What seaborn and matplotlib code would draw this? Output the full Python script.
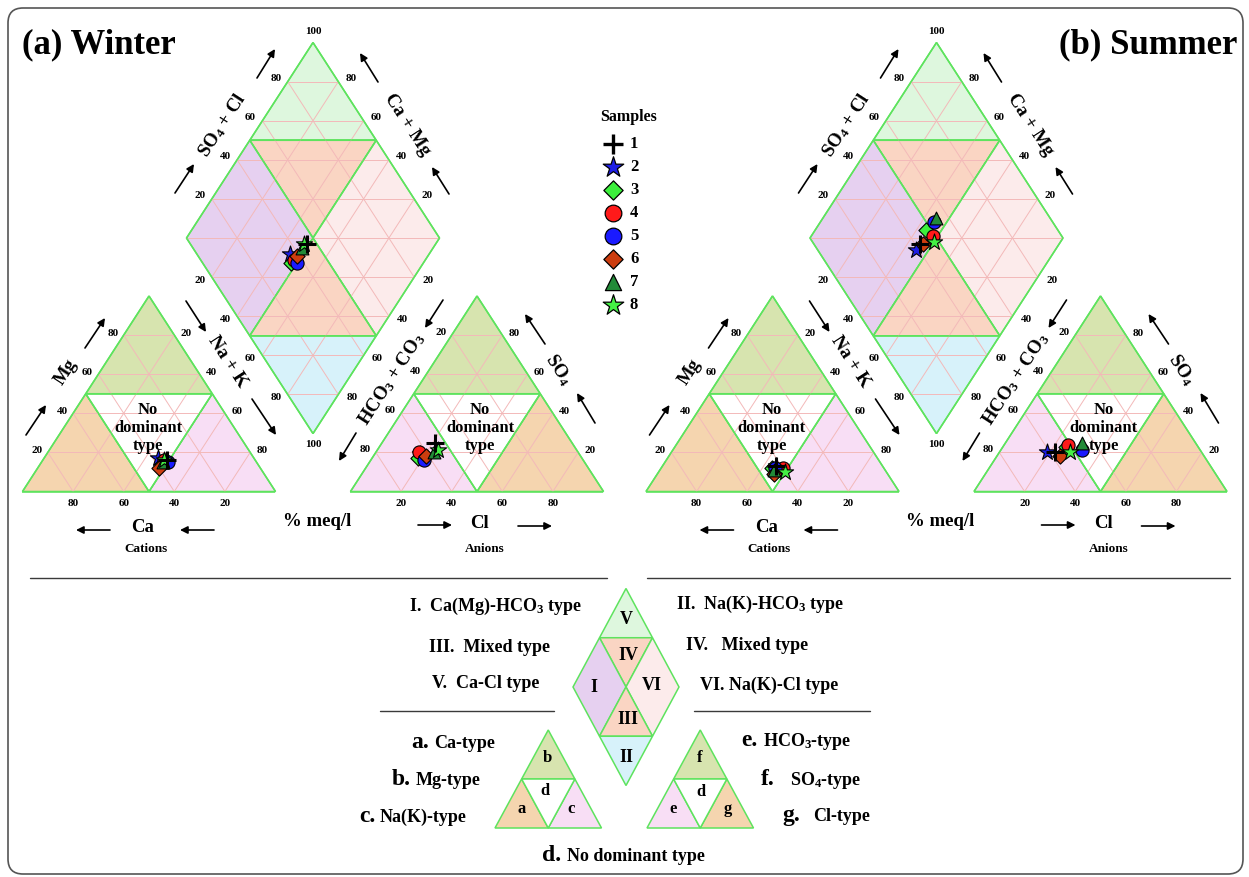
import numpy as np
import pandas as pd
import matplotlib
matplotlib.use("Agg")
import matplotlib.pyplot as plt
import seaborn as sns
from matplotlib.patches import Polygon, FancyBboxPatch

# ---------------- data (% meq/l) ----------------
samples = ["1", "2", "3", "4", "5", "6", "7", "8"]
# Winter
ca_w   = [35, 38, 38, 36, 35, 40, 37, 36]
mg_w   = [16, 17, 14, 16, 15, 12, 15, 16]
na_w   = [49, 45, 48, 48, 50, 48, 48, 48]
hco3_w = [54, 63, 65, 63, 63, 61, 57, 55]
so4_w  = [25, 19, 17, 20, 16, 18, 20, 21]
cl_w   = [21, 18, 18, 17, 21, 21, 23, 24]
# Summer
ca_s   = [42, 42, 44, 40, 43, 45, 44, 40]
mg_s   = [13, 13, 12, 12, 12, 9, 11, 10]
na_s   = [45, 45, 44, 48, 45, 46, 45, 50]
hco3_s = [58, 61, 52, 51, 47, 57, 45, 52]
so4_s  = [20, 20, 23, 24, 21, 18, 25, 20]
cl_s   = [22, 19, 25, 25, 32, 25, 30, 28]

tick_vals = [20, 40, 60, 80]
marker_styles = {"1": "+", "2": "*", "3": "D", "4": "o", "5": "o", "6": "D", "7": "^", "8": "*"}
marker_colors = {"1": "#000000", "2": "#1e1ee6", "3": "#3cf03c", "4": "#ff1a1a",
                 "5": "#1a1aff", "6": "#cc3d0f", "7": "#228b38", "8": "#44f044"}
marker_sizes = {"+": 150, "*": 150, "D": 60, "o": 90, "^": 85}

# ---------------- geometry ----------------
W, H = 253.0, 195.5
BASE = 491.5
GAP = 75.0
PANEL_X0 = {"Winter": 22.5, "Summer": 646.0}

C_GREEN_LINE = "#5ee35e"
C_GRID = "#f3b9b9"
C_V = "#def7de"
C_ORANGE_D = "#fad5c3"
C_I = "#e6d0f0"
C_VI = "#fcebeb"
C_II = "#d7f2fa"
C_OLIVE = "#d7e4af"
C_ORANGE_T = "#f5d5af"
C_PINK = "#f8def5"

sns.set_theme(style="white")
plt.rcParams["font.family"] = ["Liberation Serif", "DejaVu Serif"]
plt.rcParams["font.weight"] = "bold"
plt.rcParams["mathtext.fontset"] = "custom"
plt.rcParams["mathtext.rm"] = "Liberation Serif:bold"
plt.rcParams["mathtext.it"] = "Liberation Serif:bold"
plt.rcParams["mathtext.bf"] = "Liberation Serif:bold"
plt.rcParams["mathtext.default"] = "rm"


def cat_xy(x0, c, m, n):
    return x0 + W * (n + m / 2.0), BASE - H * m


def an_xy(x0, h, s, cl):
    xa = x0 + W + GAP
    return xa + W * (cl + s / 2.0), BASE - H * s


def dia_xy(x0, u, v):
    cx = x0 + W + GAP / 2.0
    by = BASE - GAP * H / W
    return cx + (W / 2.0) * (u - v), by - H * (u + v)


fig = plt.figure(figsize=(12.49, 8.77), dpi=100)
ax = fig.add_axes([0, 0, 1, 1])


def poly(pts, fc, z=1, ec=C_GREEN_LINE, lw=1.1, a=ax):
    a.add_patch(Polygon(pts, closed=True, facecolor=fc, edgecolor=ec, lw=lw, zorder=z))


def line(p, q, color, lw, z):
    ax.plot([p[0], q[0]], [p[1], q[1]], color=color, lw=lw, zorder=z, solid_capstyle="butt")


def txt(x, y, s, size, rot=0, ha="center", va="center", **kw):
    ax.text(x, y, s, fontsize=size, fontweight="bold", rotation=rot, ha=ha, va=va,
            rotation_mode="anchor", color="black", zorder=20, **kw)


def arrow(tail, head):
    ax.annotate("", xy=head, xytext=tail,
                arrowprops=dict(arrowstyle="-|>", color="black", lw=1.2,
                                mutation_scale=11, shrinkA=0, shrinkB=0), zorder=20)


def draw_piper(x0):
    ct = lambda c, m, n: cat_xy(x0, c, m, n)
    at = lambda h, s, cl: an_xy(x0, h, s, cl)
    dt = lambda u, v: dia_xy(x0, u, v)
    # --- fills ---
    poly([ct(.5, .5, 0), ct(0, 1, 0), ct(0, .5, .5)], C_OLIVE)
    poly([ct(1, 0, 0), ct(.5, .5, 0), ct(.5, 0, .5)], C_ORANGE_T)
    poly([ct(0, 0, 1), ct(.5, 0, .5), ct(0, .5, .5)], C_PINK)
    poly([ct(.5, .5, 0), ct(0, .5, .5), ct(.5, 0, .5)], "white")
    poly([at(.5, .5, 0), at(0, 1, 0), at(0, .5, .5)], C_OLIVE)
    poly([at(1, 0, 0), at(.5, .5, 0), at(.5, 0, .5)], C_PINK)
    poly([at(0, 0, 1), at(.5, 0, .5), at(0, .5, .5)], C_ORANGE_T)
    poly([at(.5, .5, 0), at(0, .5, .5), at(.5, 0, .5)], "white")
    poly([dt(1, 1), dt(.5, 1), dt(1, .5)], C_V)
    poly([dt(.5, 1), dt(1, .5), dt(.5, .5)], C_ORANGE_D)
    poly([dt(0, 1), dt(.5, 1), dt(.5, .5), dt(0, .5)], C_I)
    poly([dt(1, 0), dt(1, .5), dt(.5, .5), dt(.5, 0)], C_VI)
    poly([dt(.5, .5), dt(0, .5), dt(.5, 0)], C_ORANGE_D)
    poly([dt(0, .5), dt(.5, 0), dt(0, 0)], C_II)
    # --- grid ---
    for k in [.2, .4, .6, .8]:
        for f in (ct, at):
            line(f(1 - k, k, 0), f(0, k, 1 - k), C_GRID, 0.7, 2)
            line(f(k, 1 - k, 0), f(k, 0, 1 - k), C_GRID, 0.7, 2)
            line(f(1 - k, 0, k), f(0, 1 - k, k), C_GRID, 0.7, 2)
        line(dt(k, 0), dt(k, 1), C_GRID, 0.7, 2)
        line(dt(0, k), dt(1, k), C_GRID, 0.7, 2)
    for sv in np.arange(1, 10) * 0.2:
        if sv <= 1:
            line(dt(0, sv), dt(sv, 0), C_GRID, 0.7, 2)
        else:
            line(dt(sv - 1, 1), dt(1, sv - 1), C_GRID, 0.7, 2)
    # --- green boundaries on top ---
    segs = [
        (ct(1, 0, 0), ct(0, 0, 1)), (ct(1, 0, 0), ct(0, 1, 0)), (ct(0, 0, 1), ct(0, 1, 0)),
        (ct(.5, .5, 0), ct(0, .5, .5)), (ct(.5, .5, 0), ct(.5, 0, .5)), (ct(0, .5, .5), ct(.5, 0, .5)),
        (at(1, 0, 0), at(0, 0, 1)), (at(1, 0, 0), at(0, 1, 0)), (at(0, 0, 1), at(0, 1, 0)),
        (at(.5, .5, 0), at(0, .5, .5)), (at(.5, .5, 0), at(.5, 0, .5)), (at(0, .5, .5), at(.5, 0, .5)),
        (dt(0, 0), dt(1, 0)), (dt(1, 0), dt(1, 1)), (dt(1, 1), dt(0, 1)), (dt(0, 1), dt(0, 0)),
        (dt(.5, 1), dt(1, .5)), (dt(0, .5), dt(.5, 0)), (dt(.5, 1), dt(.5, 0)), (dt(0, .5), dt(1, .5)),
    ]
    for p, q in segs:
        line(p, q, C_GREEN_LINE, 1.1, 3)
    # --- tick labels ---
    ts = 8
    for val in tick_vals:
        f = val / 100.0
        x, y = ct(f, 0, 1 - f); txt(x, y + 12, str(val), ts)
        x, y = ct(1 - f, f, 0); txt(x - 11, y - 2, str(val), ts)
        x, y = ct(0, 1 - f, f); txt(x + 12, y - 2, str(val), ts)
        x, y = at(1 - f, 0, f); txt(x, y + 12, str(val), ts)
        x, y = at(f, 1 - f, 0); txt(x - 11, y - 3, str(val), ts)
        x, y = at(0, f, 1 - f); txt(x + 12, y - 2, str(val), ts)
        x, y = dt(f, 1); txt(x - 12, y - 3, str(val), ts)
        x, y = dt(1, f); txt(x + 12.5, y - 3, str(val), ts)
        x, y = dt(0, 1 - f); txt(x - 12, y + 3, str(val), ts)
        x, y = dt(1 - f, 0); txt(x + 14, y + 3, str(val), ts)
    x, y = dt(1, 1); txt(x, y - 11, "100", ts)
    x, y = dt(0, 0); txt(x, y + 11, "100", ts)
    # --- "No dominant type" ---
    for f in (ct, at):
        cx, _ = f(1 / 3, 1 / 3, 1 / 3)
        dx = 0 if f is ct else 4
        txt(cx - 1 + dx, 410, "No", 12)
        txt(cx - 1 + dx, 428, "dominant", 12)
        txt(cx - 1 + dx, 446, "type", 12)
    # --- axis labels & arrows (relative to winter position) ---
    d = x0 - 22.5
    lbl = 13.5
    txt(66 + d, 372, "Mg", lbl, rot=57)
    txt(227 + d, 362, "Na + K", lbl, rot=-57)
    txt(143 + d, 528, "Ca", lbl)
    txt(146 + d, 549, "Cations", 9.5)
    txt(317 + d, 521, "% meq/l", lbl)
    txt(392 + d, 379, r"HCO$_{3}$ + CO$_{3}$", lbl, rot=57)
    txt(558 + d, 370, r"SO$_{4}$", lbl, rot=-57)
    txt(480 + d, 524, "Cl", lbl)
    txt(485 + d, 549, "Anions", 9.5)
    txt(223 + d, 125, r"SO$_{4}$ + Cl", lbl, rot=57)
    txt(407 + d, 125, "Ca + Mg", lbl, rot=-57)
    arrows = [((85, 348), (105, 318)), ((26, 435), (46, 405)),
              ((186, 301), (206, 332)), ((252, 399), (276, 435)),
              ((110, 530), (76, 530)), ((214, 530), (180, 530)),
              ((257, 78), (275, 49)), ((175, 193), (194, 164)),
              ((378, 82), (360, 53)), ((449, 194), (432, 167)),
              ((443, 300), (425, 328)), ((356, 433), (339, 461)),
              ((545, 344), (525, 314)), ((595, 423), (577, 393)),
              ((418, 525), (452, 525)), ((518, 526), (552, 526))]
    for (t, h) in arrows:
        arrow((t[0] + d, t[1]), (h[0] + d, h[1]))


for season in ("Winter", "Summer"):
    draw_piper(PANEL_X0[season])

# ---------------- sample points ----------------
rows = []
for season, cols in (("Winter", (ca_w, mg_w, na_w, hco3_w, so4_w, cl_w)),
                     ("Summer", (ca_s, mg_s, na_s, hco3_s, so4_s, cl_s))):
    x0 = PANEL_X0[season]
    ca, mg, na, hc, so, cl = [np.array(c, dtype=float) / 100.0 for c in cols]
    for i, smp in enumerate(samples):
        px, py = cat_xy(x0, ca[i], mg[i], na[i])
        rows.append((season, "cation", smp, px, py))
        px, py = an_xy(x0, hc[i], so[i], cl[i])
        rows.append((season, "anion", smp, px, py))
        px, py = dia_xy(x0, so[i] + cl[i], ca[i] + mg[i])
        rows.append((season, "diamond", smp, px, py))
df = pd.DataFrame(rows, columns=["season", "diagram", "sample", "x", "y"])

draw_order = ["2", "3", "4", "5", "6", "7", "8", "1"]
for z, smp in enumerate(draw_order):
    sub = df[df["sample"] == smp]
    mk = marker_styles[smp]
    if mk == "+":
        sns.scatterplot(data=sub, x="x", y="y", marker="+", color="black",
                        s=marker_sizes[mk], linewidth=2.2, ax=ax, zorder=10 + z, legend=False)
    else:
        sns.scatterplot(data=sub, x="x", y="y", marker=mk, color=marker_colors[smp],
                        s=marker_sizes[mk], edgecolor="black", linewidth=0.8, ax=ax,
                        zorder=10 + z, legend=False)

# ---------------- sample legend ----------------
txt(629, 117, "Samples", 11.5)
for i, smp in enumerate(samples):
    yy = 144 + 23.0 * i
    mk = marker_styles[smp]
    if mk == "+":
        ax.scatter([613], [yy], marker="+", c="black", s=220, linewidths=2.4, zorder=15)
    else:
        ax.scatter([613], [yy], marker=mk, c=marker_colors[smp], s=marker_sizes[mk] * 1.6,
                   edgecolors="black", linewidths=0.9, zorder=15)
    txt(630, yy, smp, 12, ha="left")

# ---------------- titles ----------------
txt(22, 45, "(a) Winter", 25, ha="left")
txt(1237, 45, "(b) Summer", 25, ha="right")

# ---------------- bottom classification legend ----------------
def seg(p, q, lw=1.0, color="#3a3a3a"):
    ax.plot([p[0], q[0]], [p[1], q[1]], color=color, lw=lw, zorder=5)

seg((30, 578), (607, 578))
seg((647, 578), (1230, 578))
seg((380, 711), (554, 711))
seg((694, 711), (870, 711))

LC = (626.0, 687.0)
LW2, LH2 = 53.0, 98.5
def ld(u, v):
    return LC[0] + LW2 * (u - v), LC[1] + LH2 * (1 - u - v)

poly([ld(1, 1), ld(.5, 1), ld(1, .5)], C_V, z=4)
poly([ld(.5, 1), ld(1, .5), ld(.5, .5)], C_ORANGE_D, z=4)
poly([ld(0, 1), ld(.5, 1), ld(.5, .5), ld(0, .5)], C_I, z=4)
poly([ld(1, 0), ld(1, .5), ld(.5, .5), ld(.5, 0)], C_VI, z=4)
poly([ld(.5, .5), ld(0, .5), ld(.5, 0)], C_ORANGE_D, z=4)
poly([ld(0, .5), ld(.5, 0), ld(0, 0)], C_II, z=4)

def small_tri(xl, fills):
    wb, hb, yb = 106.5, 98.0, 828.0
    def tp(c, m, n):
        return xl + wb * (n + m / 2.0), yb - hb * m
    poly([tp(.5, .5, 0), tp(0, 1, 0), tp(0, .5, .5)], fills[0], z=4)
    poly([tp(1, 0, 0), tp(.5, .5, 0), tp(.5, 0, .5)], fills[1], z=4)
    poly([tp(0, 0, 1), tp(.5, 0, .5), tp(0, .5, .5)], fills[2], z=4)
    poly([tp(.5, .5, 0), tp(0, .5, .5), tp(.5, 0, .5)], "white", z=4)

small_tri(495.0, (C_OLIVE, C_ORANGE_T, C_PINK))
small_tri(647.0, (C_OLIVE, C_PINK, C_ORANGE_T))

for s_, x_, y_ in [("V", 626, 620), ("IV", 628, 655), ("I", 594, 687), ("VI", 652, 686),
                   ("III", 628, 719), ("II", 626, 757)]:
    txt(x_, y_, s_, 13)
for s_, x_, y_ in [("b", 547.5, 758), ("d", 545, 791), ("a", 522, 809), ("c", 571, 809),
                   ("f", 699.5, 758), ("d", 700.5, 792), ("e", 673.5, 809), ("g", 727.5, 809)]:
    txt(x_, y_, s_, 12)

lt = 13
txt(409, 611, r"I.  Ca(Mg)-HCO$_{3}$ type", lt, ha="left", va="baseline")
txt(429, 652, "III.  Mixed type", lt, ha="left", va="baseline")
txt(432, 688, "V.  Ca-Cl type", lt, ha="left", va="baseline")
txt(676, 609, r"II.  Na(K)-HCO$_{3}$ type", lt, ha="left", va="baseline")
txt(686, 650, "IV.   Mixed type", lt, ha="left", va="baseline")
txt(700, 690, "VI. Na(K)-Cl type", lt, ha="left", va="baseline")

big = 17
for letter, xl, xt, yb, rest in [("a.", 411, 434, 748, "Ca-type"),
                                  ("b.", 392, 416, 785, "Mg-type"),
                                  ("c.", 359, 380, 822, "Na(K)-type"),
                                  ("e.", 741, 763, 746, r"HCO$_{3}$-type"),
                                  ("f.", 761, 790, 785, r"SO$_{4}$-type"),
                                  ("g.", 782, 813, 821, "Cl-type"),
                                  ("d.", 542, 567, 861, "No dominant type")]:
    txt(xl, yb, letter, big, ha="left", va="baseline")
    txt(xt, yb, rest, lt, ha="left", va="baseline")

# ---------------- frame ----------------
ax.add_patch(FancyBboxPatch((8, 8), 1235, 866, boxstyle="round,pad=0,rounding_size=15",
                            facecolor="none", edgecolor="#555555", lw=1.2, zorder=30))

ax.set_xlim(0, 1249)
ax.set_ylim(877, 0)
ax.set_xlabel("")
ax.set_ylabel("")
ax.axis("off")
fig.savefig("out.png", dpi=100)
